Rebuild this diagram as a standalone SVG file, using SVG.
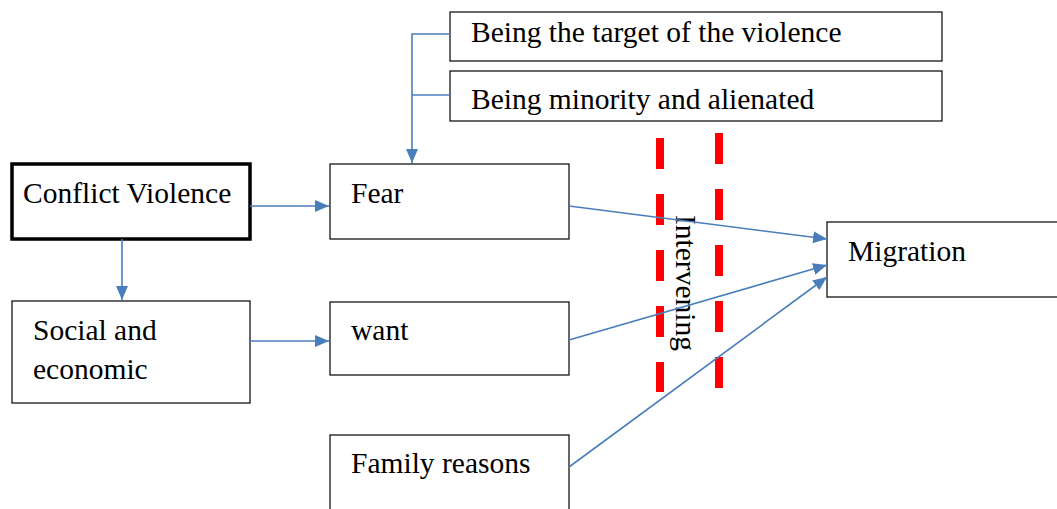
<svg xmlns="http://www.w3.org/2000/svg" width="1057" height="509" viewBox="0 0 1057 509">
<style>
.box{fill:#fff;stroke:#000;stroke-width:1.2}
.thick{stroke-width:3.5}
.t{font-family:"Liberation Serif","Times New Roman",serif;font-size:29.5px;fill:#000}
.c{fill:none;stroke:#4a7ebb;stroke-width:1.6}
.red{fill:none;stroke:#ff0000;stroke-width:8;stroke-dasharray:31 25}
</style>
<defs>
<marker id="ah2" viewBox="0 0 14 12" refX="14" refY="6" markerWidth="14" markerHeight="12" markerUnits="userSpaceOnUse" orient="auto">
<path d="M0,0 L14,6 L0,12 z" fill="#4a7ebb"/>
</marker>
</defs>
<rect width="1057" height="509" fill="#fff"/>
<g id="node-target"><rect class="box" x="450" y="12" width="492" height="49"/><text class="t" x="471" y="42">Being the target of the violence</text></g>
<g id="node-minority"><rect class="box" x="450" y="71" width="492" height="50"/><text class="t" x="471" y="109">Being minority and alienated</text></g>
<g id="node-conflict"><rect class="box thick" x="12" y="164" width="238" height="75"/><text class="t" x="23" y="203">Conflict Violence</text></g>
<g id="node-fear"><rect class="box" x="330" y="164" width="239" height="75"/><text class="t" x="351" y="203">Fear</text></g>
<g id="node-social"><rect class="box" x="12" y="301" width="238" height="102"/><text class="t" x="33" y="340">Social and</text><text class="t" x="33" y="379">economic</text></g>
<g id="node-want"><rect class="box" x="330" y="302" width="239" height="73"/><text class="t" x="351" y="340">want</text></g>
<g id="node-family"><rect class="box" x="330" y="435" width="239" height="80"/><text class="t" x="351" y="473">Family reasons</text></g>
<g id="node-migration"><rect class="box" x="827" y="222" width="235" height="75"/><text class="t" x="848" y="261">Migration</text></g>
<g id="intervening">
<line class="red" x1="660" y1="138" x2="660" y2="392"/>
<line class="red" x1="719" y1="133" x2="719" y2="388"/>
<text class="t" transform="translate(676,215) rotate(90)">Intervening</text>
</g>
<g id="connectors">
<path class="c" d="M450,34 H412 V163" marker-end="url(#ah2)"/>
<path class="c" d="M450,95 H412"/>
<path class="c" d="M250,206 H329" marker-end="url(#ah2)"/>
<path class="c" d="M122,239 V300" marker-end="url(#ah2)"/>
<path class="c" d="M250,341 H329" marker-end="url(#ah2)"/>
<path class="c" d="M569,206 L827,239" marker-end="url(#ah2)"/>
<path class="c" d="M569,340 L827,265" marker-end="url(#ah2)"/>
<path class="c" d="M569,467 L827,277" marker-end="url(#ah2)"/>
</g>
</svg>
